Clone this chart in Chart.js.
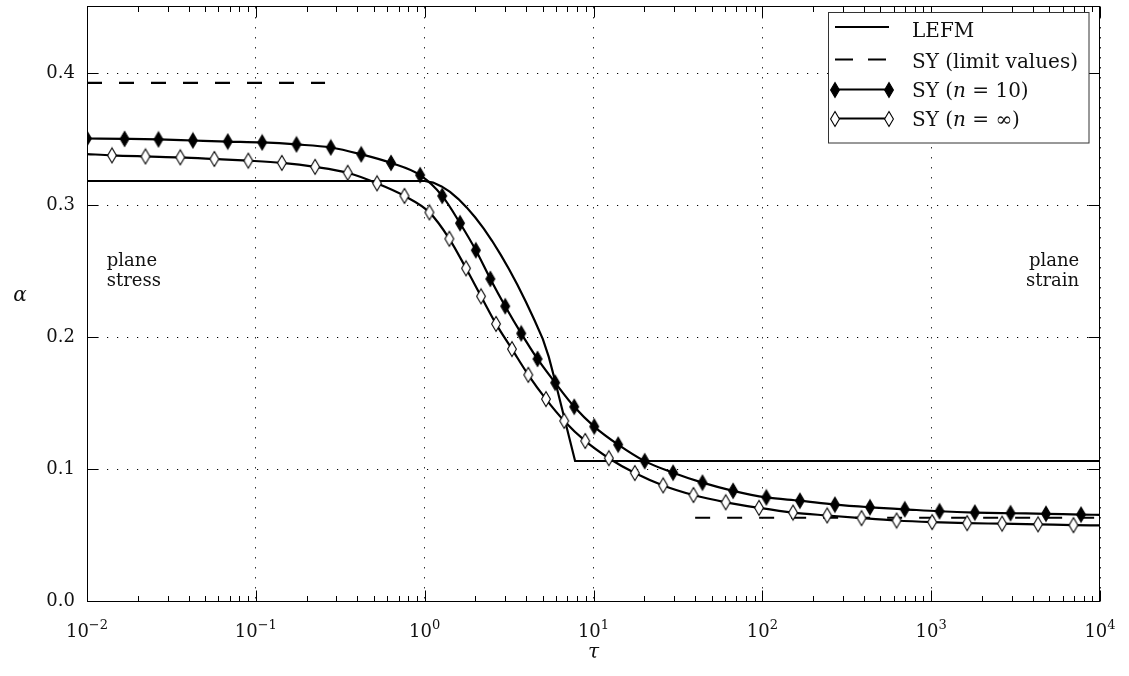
<!DOCTYPE html>
<html>
<head>
<meta charset="utf-8">
<script src="https://cdn.jsdelivr.net/npm/chart.js@4.4.1/dist/chart.umd.min.js"></script>
<style>
  body { margin: 0; background: #fff; }
  canvas { display: block; }
</style>
</head>
<body>
<canvas id="alphaChart" width="1129" height="676"></canvas>
<script>
// values: tau (log axis) and alpha
const lefmTau   = [0.01, 1.0, 1.122, 1.259, 1.413, 1.585, 1.778, 1.995, 2.239, 2.512, 2.818, 3.162, 3.548, 3.981, 4.467, 5.012, 5.433, 5.888, 7.78, 10000];
const lefmAlpha = [0.3183, 0.3183, 0.3171, 0.3142, 0.3100, 0.3046, 0.2981, 0.2906, 0.2822, 0.2728, 0.2625, 0.2514, 0.2394, 0.2266, 0.2129, 0.1985, 0.1850, 0.1680, 0.1061, 0.1061];

const n10Tau   = [0.01, 0.0167, 0.0265, 0.0424, 0.0682, 0.109, 0.174, 0.278, 0.421, 0.632, 0.94, 1.27, 1.62, 2.01, 2.45, 3.00, 3.73, 4.66, 5.93, 7.69,
                  10.1, 14.0, 20.1, 29.6, 44.2, 67.1, 105.6, 167, 269, 434, 698, 1121, 1814, 2951, 4786, 7720, 10000];
const n10Alpha = [0.3505, 0.3502, 0.3498, 0.3490, 0.3482, 0.3475, 0.3460, 0.3437, 0.3385, 0.3320, 0.3227, 0.3070, 0.2863, 0.2658, 0.2441, 0.2234, 0.2028, 0.1834, 0.1654, 0.1472,
                  0.1322, 0.1185, 0.1060, 0.0972, 0.0897, 0.0835, 0.0785, 0.0760, 0.0730, 0.0710, 0.0695, 0.0680, 0.0670, 0.0665, 0.0661, 0.0655, 0.0653];

const ninfTau   = [0.01, 0.01406, 0.0222, 0.0357, 0.0568, 0.0902, 0.1426, 0.2244, 0.350, 0.522, 0.759, 1.067, 1.40, 1.758, 2.157, 2.646, 3.289, 4.108, 5.228, 6.708,
                   8.93, 12.33, 17.58, 25.85, 39.1, 60.7, 95.6, 152, 242, 387, 624, 1014, 1633, 2630, 4295, 6961, 10000];
const ninfAlpha = [0.3387, 0.3377, 0.3369, 0.3362, 0.3350, 0.3337, 0.3320, 0.3290, 0.3245, 0.3165, 0.3070, 0.2945, 0.2745, 0.2521, 0.2309, 0.2100, 0.1909, 0.1714, 0.1530, 0.1365,
                   0.1213, 0.1082, 0.0970, 0.0876, 0.0803, 0.0748, 0.0706, 0.0670, 0.0648, 0.0628, 0.0610, 0.0598, 0.0590, 0.0586, 0.0581, 0.0575, 0.0573];

const stressLimitTau   = [0.01, 0.257];
const stressLimitAlpha = [0.3927, 0.3927];
const strainLimitTau   = [40, 10000];
const strainLimitAlpha = [0.0631, 0.0631];

const xDecades = [0.01, 0.1, 1, 10, 100, 1000, 10000];
const xExponents = ['\u22122', '\u22121', '0', '1', '2', '3', '4'];

const FONT = 'DejaVu Serif';
const INK = '#111';
const LW = 2.2;
Chart.defaults.font.family = FONT;
Chart.defaults.font.size = 18;
Chart.defaults.color = INK;

function pts(xs, ys) { return xs.map((v, i) => ({ x: v, y: ys[i] })); }

// tall thin diamond marker
function diamond(fill) {
    const c = document.createElement('canvas');
    c.width = 12; c.height = 18;
    const g = c.getContext('2d');
    g.beginPath();
    g.moveTo(6, 1.5); g.lineTo(10.4, 9); g.lineTo(6, 16.5); g.lineTo(1.6, 9); g.closePath();
    g.fillStyle = fill; g.fill();
    g.lineWidth = 1.1; g.strokeStyle = '#000'; g.stroke();
    return c;
}
const fullDiamond = diamond('#000');
const openDiamond = diamond('#fff');

function tick(ctx, x0, y0, dx, dy) { ctx.moveTo(x0, y0); ctx.lineTo(x0 + dx, y0 + dy); }

const framePlugin = {
    id: 'frame',
    afterDraw(chart) {
        const { ctx, chartArea: a, scales: { x, y } } = chart;
        const L = Math.round(a.left) + 0.5, R = Math.round(a.right) - 0.5;
        const T = Math.round(a.top) - 0.5, B = Math.round(a.bottom) + 0.5;
        ctx.save();
        ctx.strokeStyle = '#000';
        ctx.lineWidth = 1;
        ctx.setLineDash([]);
        ctx.beginPath();
        xDecades.forEach((d, i) => {
            const px = Math.round(x.getPixelForValue(d)) + 0.5;
            tick(ctx, px, B, 0, -11); tick(ctx, px, T, 0, 11);
            if (i < xDecades.length - 1) {
                for (let m = 2; m < 10; m++) {
                    const mx = Math.round(x.getPixelForValue(d * m)) + 0.5;
                    tick(ctx, mx, B, 0, -5.5); tick(ctx, mx, T, 0, 5.5);
                }
            }
        });
        y.ticks.forEach(t => {
            const py = Math.round(y.getPixelForValue(t.value)) + 0.5;
            tick(ctx, L, py, 11, 0); tick(ctx, R, py, -11, 0);
        });
        ctx.stroke();
        ctx.strokeRect(L, T, R - L, B - T);

        // x tick labels 10^k
        ctx.fillStyle = INK;
        ctx.textBaseline = 'alphabetic';
        ctx.textAlign = 'left';
        xDecades.forEach((d, i) => {
            const px = x.getPixelForValue(d);
            ctx.font = '18px ' + FONT;
            const wb = ctx.measureText('10').width;
            ctx.font = '13px ' + FONT;
            const we = ctx.measureText(xExponents[i]).width;
            const x0 = px - (wb + we) / 2;
            ctx.font = '18px ' + FONT;
            ctx.fillText('10', x0, 637);
            ctx.font = '13px ' + FONT;
            ctx.fillText(xExponents[i], x0 + wb, 628.5);
        });

        // axis titles
        ctx.font = 'italic 20px ' + FONT;
        ctx.textAlign = 'center';
        ctx.fillText('\u03b1', 20, 301);
        ctx.fillText('\u03c4', (a.left + a.right) / 2, 658);

        // region notes
        ctx.font = '18px ' + FONT;
        ctx.textAlign = 'left';
        ctx.fillText('plane', x.getPixelForValue(0.0131), 266);
        ctx.fillText('stress', x.getPixelForValue(0.0131), 286);
        ctx.textAlign = 'right';
        ctx.fillText('plane', x.getPixelForValue(7530), 266);
        ctx.fillText('strain', x.getPixelForValue(7530), 286);

        // legend
        const bx = 828.5, by = 12.5, bw = 260.5, bh = 130.5;
        ctx.fillStyle = '#fff';
        ctx.fillRect(bx, by, bw, bh);
        ctx.strokeStyle = '#333';
        ctx.lineWidth = 1;
        ctx.strokeRect(bx, by, bw, bh);
        const rows = [
            { kind: 'solid',  y: 27,    base: 36.5,  text: [['LEFM', '']] },
            { kind: 'dash',   y: 59.5,  base: 68.3,  text: [['SY (limit values)', '']] },
            { kind: 'filled', y: 89.5,  base: 97.3,  text: [['SY (', ''], ['n', 'italic '], [' = 10)', '']] },
            { kind: 'open',   y: 118.5, base: 125.6, text: [['SY (', ''], ['n', 'italic '], [' = \u221e)', '']] }
        ];
        rows.forEach(r => {
            ctx.strokeStyle = '#000';
            ctx.lineWidth = LW;
            ctx.setLineDash(r.kind === 'dash' ? [18, 15] : []);
            ctx.beginPath();
            ctx.moveTo(835, r.y);
            ctx.lineTo(r.kind === 'dash' ? 887 : 889, r.y);
            ctx.stroke();
            ctx.setLineDash([]);
            if (r.kind === 'filled' || r.kind === 'open') {
                const img = r.kind === 'filled' ? fullDiamond : openDiamond;
                ctx.drawImage(img, 835 - 6, Math.round(r.y) - 9);
                ctx.drawImage(img, 889 - 6, Math.round(r.y) - 9);
            }
            let tx = 912;
            ctx.fillStyle = INK;
            ctx.textAlign = 'left';
            r.text.forEach(([s, st]) => {
                ctx.font = st + '20px ' + FONT;
                ctx.fillText(s, tx, r.base);
                tx += ctx.measureText(s).width;
            });
        });
        ctx.restore();
    }
};

const ctx = document.getElementById('alphaChart');

new Chart(ctx, {
    type: 'line',
    data: {
        datasets: [
            {
                label: 'SY (n = 10)',
                data: pts(n10Tau, n10Alpha),
                borderColor: '#000', borderWidth: LW,
                cubicInterpolationMode: 'monotone',
                pointStyle: fullDiamond,
                bare: [n10Tau.length - 1],
                pointRadius: c => c.dataset.bare.includes(c.dataIndex) ? 0 : 5
            },
            {
                label: 'SY (n = \u221e)',
                data: pts(ninfTau, ninfAlpha),
                borderColor: '#000', borderWidth: LW,
                cubicInterpolationMode: 'monotone',
                pointStyle: openDiamond,
                bare: [0, ninfTau.length - 1],
                pointRadius: c => c.dataset.bare.includes(c.dataIndex) ? 0 : 5
            },
            {
                label: 'LEFM',
                data: pts(lefmTau, lefmAlpha),
                borderColor: '#000', borderWidth: LW,
                tension: 0, pointRadius: 0
            },
            {
                label: 'SY (limit values)',
                data: pts(stressLimitTau, stressLimitAlpha),
                borderColor: '#000', borderWidth: LW, borderDash: [15, 17],
                pointRadius: 0
            },
            {
                label: 'SY (limit values) strain',
                data: pts(strainLimitTau, strainLimitAlpha),
                borderColor: '#000', borderWidth: LW, borderDash: [15, 17],
                pointRadius: 0
            }
        ]
    },
    options: {
        responsive: false,
        animation: false,
        devicePixelRatio: 1,
        events: [],
        layout: { padding: { left: 0, right: 29, top: 1, bottom: 0 } },
        plugins: {
            legend: { display: false },
            tooltip: { enabled: false }
        },
        scales: {
            x: {
                type: 'logarithmic',
                min: 0.01,
                max: 10000,
                afterBuildTicks: s => { s.ticks = xDecades.map(v => ({ value: v })); },
                afterFit: s => { s.height = 75; s.paddingLeft = 0; s.paddingRight = 0; },
                ticks: { display: false },
                grid: { color: '#000', lineWidth: 1, drawTicks: false },
                border: { display: false, dash: [1.2, 8.8] }
            },
            y: {
                min: 0,
                max: 0.45,
                afterFit: s => { s.width = 87; s.paddingTop = 0; s.paddingBottom = 0; },
                ticks: {
                    stepSize: 0.1,
                    includeBounds: false,
                    padding: 12,
                    color: INK,
                    font: { size: 18 },
                    callback: v => v.toFixed(1)
                },
                grid: { color: '#000', lineWidth: 1, drawTicks: false },
                border: { display: false, dash: [1.2, 8.8] }
            }
        }
    },
    plugins: [framePlugin]
});
</script>
</body>
</html>
